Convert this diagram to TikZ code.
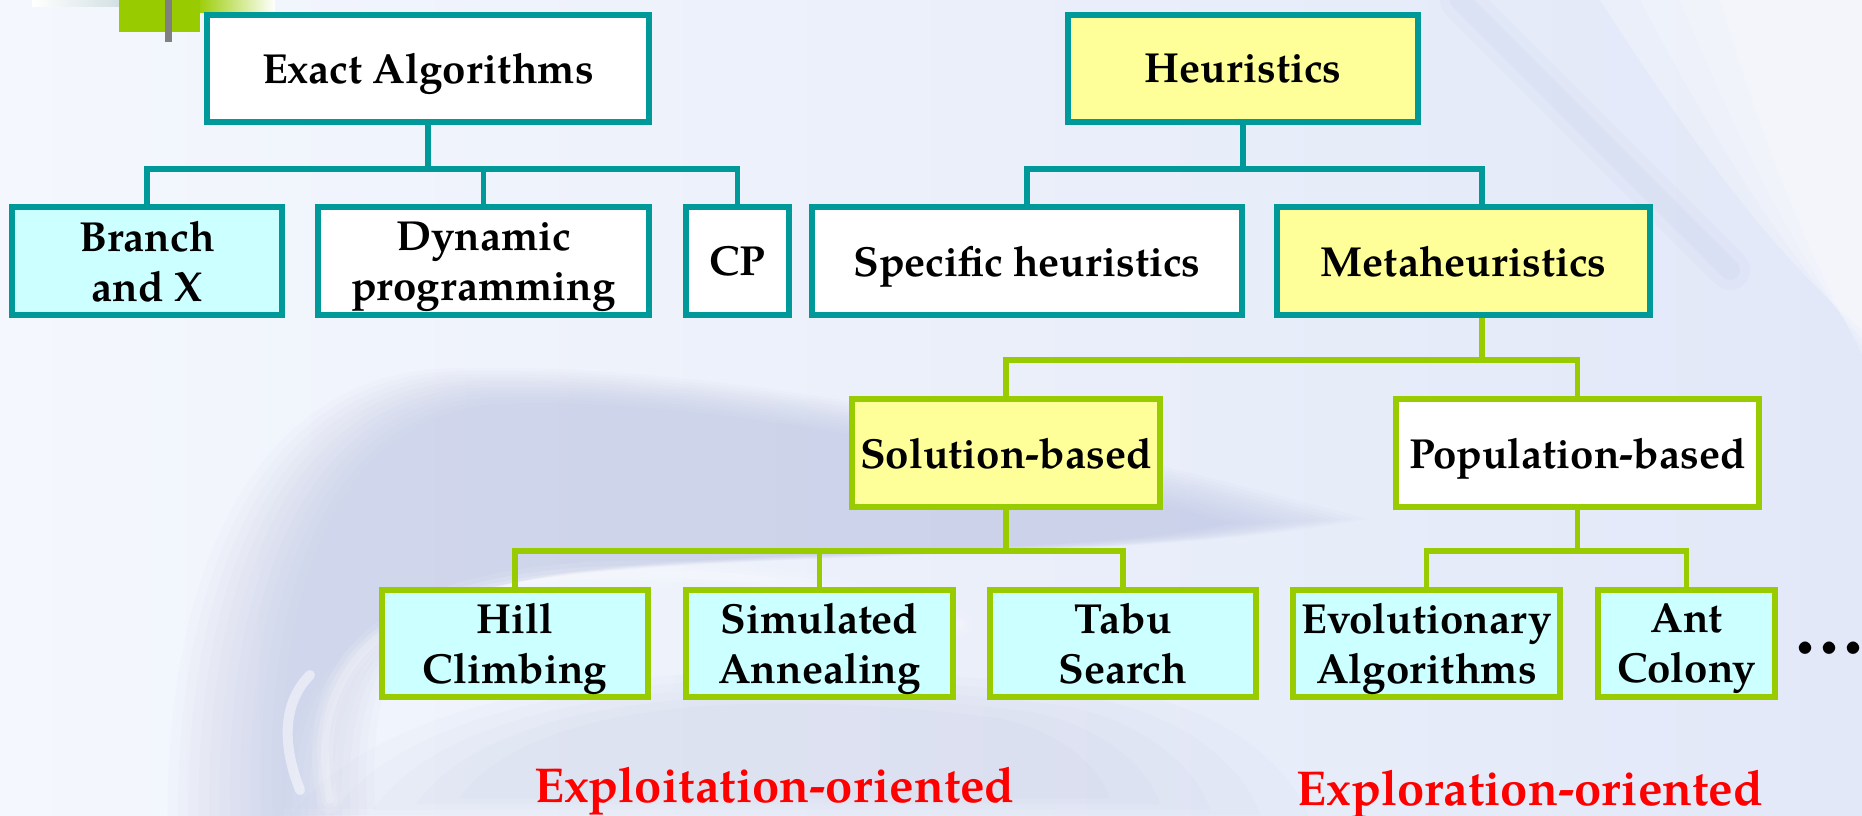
\documentclass[tikz,border=0pt]{standalone}
\usepackage{fontspec}
\setmainfont{TeX Gyre Pagella}
\usetikzlibrary{calc}

\definecolor{tealc}{RGB}{0,153,153}
\definecolor{limec}{RGB}{153,204,0}
\definecolor{yellowf}{RGB}{255,255,153}
\definecolor{cyanf}{RGB}{204,255,255}
\definecolor{redt}{RGB}{255,0,0}
\definecolor{bgA}{RGB}{244,247,253}
\definecolor{bgB}{RGB}{214,221,244}
\definecolor{bgC}{RGB}{226,232,248}
\definecolor{swoosh}{RGB}{160,170,214}
\definecolor{barfade}{RGB}{196,214,218}

\tikzset{
  box/.style={draw, line width=2.8pt, inner sep=0pt, align=center, text depth=0pt,
    font=\fontsize{21}{25}\selectfont\bfseries, minimum height=54pt},
  tealbox/.style={box, draw=tealc},
  limebox/.style={box, draw=limec},
  tline/.style={draw=tealc, line width=2.8pt, line join=miter},
  lline/.style={draw=limec, line width=2.8pt, line join=miter},
  redlabel/.style={text=redt, inner sep=0pt, font=\fontsize{24.5}{28}\selectfont\bfseries},
}

\begin{document}
\begin{tikzpicture}[x=0.5pt, y=-0.5pt]
\useasboundingbox (0,0) rectangle (1862,815);

% slide background: soft gradient with blurred swooshes
\fill[left color=bgA, middle color=bgB, right color=bgC] (0,0) rectangle (1862,815);
\foreach \s in {1.06,1.04,1.02,1.0,0.98,0.96,0.94,0.92,0.9,0.88,0.86,0.84}{
  \fill[swoosh, opacity=0.035, scale around={\s:(720,540)}]
    (200,860) .. controls (185,540) and (300,385) .. (460,378)
    .. controls (700,370) and (1000,430) .. (1330,520)
    .. controls (1100,565) and (700,545) .. (500,585)
    .. controls (340,620) and (300,700) .. (310,860) -- cycle;
}
\foreach \s in {1.1,1.0,0.9,0.8,0.7}{
  \fill[swoosh, opacity=0.04, scale around={\s:(760,760)}]
    (330,815) .. controls (420,690) and (700,650) .. (1100,700)
    .. controls (1200,720) and (1250,780) .. (1260,815) -- cycle;
}
\foreach \w/\o in {26/0.1,16/0.12,8/0.18}{
  \draw[white, opacity=\o, line width=\w*0.5pt, line cap=round]
    (330,800) .. controls (300,650) and (410,585) .. (590,575)
    .. controls (740,568) and (860,590) .. (960,625);
}
\draw[white, opacity=0.5, line width=5pt, line cap=round]
  (300,790) .. controls (280,740) and (285,700) .. (310,675);
\foreach \d/\o in {0/0.25,40/0.2,80/0.2,120/0.2}{
  \fill[white, opacity=\o]
    (1600+\d,0) .. controls (1690+\d*0.6,140) and (1770+\d*0.3,250) .. (1862,330+\d*0.2) -- (1862,0) -- cycle;
}
\foreach \w/\o in {40/0.06,20/0.08}{
  \draw[swoosh, opacity=\o, line width=\w*0.5pt, line cap=round]
    (1460,0) .. controls (1560,100) and (1650,190) .. (1730,270);
}

% template ornament in the corner
\fill[left color=white, right color=barfade] (32,0) rectangle (150,6);
\fill[left color=limec, right color=white] (196,0) rectangle (275,12);
\fill[limec] (119,0) rectangle (200,32);
\fill[gray] (165,0) rectangle (172,42);

% level 1
\node[tealbox, fill=white, minimum width=221.2pt, minimum height=53.7pt] (exact) at (428,68.5) {Exact Algorithms};
\node[tealbox, fill=yellowf, minimum width=175.2pt, minimum height=53.7pt] (heur) at (1243,68.5) {Heuristics};

% level 2
\node[tealbox, fill=cyanf, minimum width=135.2pt] (branch) at (147,261) {Branch\\and X};
\node[tealbox, fill=white, minimum width=165.7pt] (dynprog) at (483.5,261) {Dynamic\\programming};
\node[tealbox, fill=white, minimum width=51.7pt] (cp) at (737.5,261) {CP};
\node[tealbox, fill=white, minimum width=215.2pt] (spec) at (1027,261) {Specific heuristics};
\node[tealbox, fill=yellowf, minimum width=186.7pt] (meta) at (1463.5,261) {Metaheuristics};

% level 3
\node[limebox, fill=yellowf, minimum width=154.2pt] (sol) at (1006,453) {Solution-based};
\node[limebox, fill=white, minimum width=181.7pt] (pop) at (1577.5,453) {Population-based};

% level 4
\node[limebox, fill=cyanf, minimum width=133.2pt, minimum height=53.7pt] (hill) at (515,643.5) {Hill\\Climbing};
\node[limebox, fill=cyanf, minimum width=133.7pt, minimum height=53.7pt] (sa) at (819.5,643.5) {Simulated\\Annealing};
\node[limebox, fill=cyanf, minimum width=133.2pt, minimum height=53.7pt] (tabu) at (1123,643.5) {Tabu\\Search};
\node[limebox, fill=cyanf, minimum width=133.7pt, minimum height=53.7pt] (evo) at (1426.5,643.5) {Evolutionary\\Algorithms};
\node[limebox, fill=cyanf, minimum width=88.7pt, minimum height=53.7pt] (ant) at (1686.5,643.5) {Ant\\Colony};

\node[anchor=base west, inner sep=0pt, font=\fontsize{40}{40}\selectfont\bfseries] (more) at (1795,653) {.\kern2pt.\kern2pt.\kern-4pt};

% labels below the leaves
\node[redlabel, anchor=base] (exploit) at (774.5,802) {Exploitation-oriented};
\node[redlabel, anchor=base] (explore) at (1530,805) {Exploration-oriented};

% connectors
\coordinate (mtop) at ($(meta.north)+(18.5,0)$);
\coordinate (mbot) at ($(meta.south)+(18.5,0)$);

\draw[tline] (exact.south) -- ++(0,44) -| (branch.north);
\draw[tline] (exact.south) -- ++(0,44) -| (dynprog.north);
\draw[tline] (exact.south) -- ++(0,44) -| (cp.north);
\draw[tline] (heur.south) -- ++(0,44) -| (spec.north);
\draw[tline] (heur.south) -- ++(0,44) -| (mtop);

\draw[lline] (mbot) -- ++(0,42) -| (sol.north);
\draw[lline] (mbot) -- ++(0,42) -| (pop.north);

\draw[lline] (sol.south) -- ++(0,41) -| (hill.north);
\draw[lline] (sol.south) -- ++(0,41) -| (sa.north);
\draw[lline] (sol.south) -- ++(0,41) -| (tabu.north);
\draw[lline] (pop.south) -- ++(0,41) -| (evo.north);
\draw[lline] (pop.south) -- ++(0,41) -| (ant.north);
\end{tikzpicture}
\end{document}
